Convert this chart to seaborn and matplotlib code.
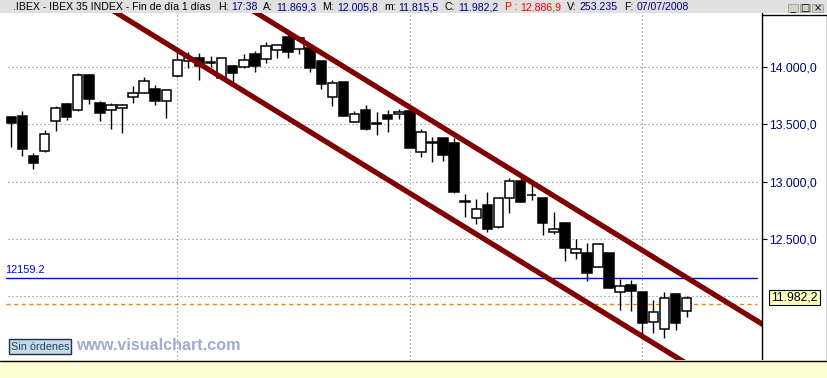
import numpy as np
import pandas as pd
import matplotlib
matplotlib.use("Agg")
import matplotlib.pyplot as plt
import matplotlib.patches as mpatches
from matplotlib.lines import Line2D
from matplotlib.transforms import offset_copy
import seaborn as sns

# ---------------- data ----------------
holidays = [pd.Timestamp("2008-05-01")]
dates = [d for d in pd.bdate_range("2008-04-10", "2008-07-07") if d not in holidays]

opens = [13561, 13573, 13224, 13270, 13532, 13675, 13625, 13928, 13683, 13622,
         13640, 13736, 13771, 13806, 13701, 13919, 14052, 14076, 14045, 13901,
         14006, 13997, 14111, 14067, 14148, 14259, 14154, 14168, 14052, 13741,
         13867, 13523, 13625, 13512, 13581, 13588, 13616, 13261, 13345, 13378,
         13335, 12828, 12681, 12794, 12607, 12855, 13006, 12888, 12855, 12559,
         12637, 12375, 12375, 12259, 12375, 12035, 12096, 12035, 11779, 11713,
         12021, 11869.3]
highs = [13573, 13616, 13247, 13451, 13660, 13686, 13950, 13942, 13704, 13683,
         13675, 13834, 13913, 13843, 13797, 14170, 14128, 14119, 14096, 14076,
         14017, 14111, 14140, 14215, 14192, 14303, 14255, 14168, 14052, 13887,
         13867, 13616, 13669, 13605, 13625, 13631, 13616, 13459, 13387, 13378,
         13384, 12890, 12846, 12913, 12860, 13029, 13058, 12986, 12855, 12738,
         12651, 12500, 12463, 12454, 12375, 12151, 12143, 12035, 11968, 12035,
         12032, 12005.8]
lows = [13305, 13227, 13108, 13261, 13445, 13538, 13616, 13677, 13532, 13462,
        13427, 13689, 13771, 13669, 13558, 13910, 13989, 13887, 14003, 13887,
        13849, 13989, 13959, 14032, 14076, 14076, 14111, 13959, 13806, 13663,
        13575, 13518, 13451, 13407, 13431, 13544, 13291, 13218, 13174, 13183,
        12904, 12695, 12631, 12564, 12599, 12730, 12825, 12840, 12535, 12544,
        12311, 12326, 12137, 12259, 12076, 11881, 11875, 11643, 11683, 11634,
        11706, 11815.5]
closes = [13509, 13282, 13160, 13413, 13640, 13567, 13928, 13721, 13596, 13666,
          13671, 13771, 13875, 13706, 13797, 14058, 14076, 14009, 14038, 14076,
          13945, 14061, 14011, 14186, 14192, 14128, 14250, 13994, 13852, 13858,
          13575, 13588, 13457, 13506, 13544, 13605, 13296, 13431, 13340, 13235,
          12913, 12822, 12759, 12585, 12860, 13006, 12825, 12880, 12637, 12585,
          12419, 12410, 12206, 12454, 12076, 12093, 12049, 11770, 11861, 11983,
          11770, 11982.2]

# trend channel (bar index, price)
upper_idx = [20.0, 68.0]
upper_price = [14599, 11748]
lower_idx = [8.0, 63.0]
lower_price = [14562, 11295]

ref_level = 12159.2
ref_label = "12159.2"
orange_level = 11933
last_label = "11.982,2"
grid_levels = [12000, 12500, 13000, 13500, 14000]
ytick_levels = [12500, 13000, 13500, 14000]
ytick_labels = ["12.500,0", "13.000,0", "13.500,0", "14.000,0"]
month_labels = ["May", "Jun", "Jul"]
month_starts = ["2008-05-02", "2008-06-02", "2008-07-01"]

header_title = ".IBEX - IBEX 35 INDEX - Fin de día 1 días"
header_fields = [
    ("H:", "17:38", "black", "#000080"),
    ("A:", "11.869,3", "black", "#000080"),
    ("M:", "12.005,8", "black", "#000080"),
    ("m:", "11.815,5", "black", "#000080"),
    ("C:", "11.982,2", "black", "#000080"),
    ("P :", "12.886,9", "#FF0000", "#FF0000"),
    ("V:", "253.235", "black", "#000080"),
    ("F:", "07/07/2008", "black", "#000080"),
]

# ---------------- style ----------------
sns.set_theme(style="white")
plt.rcParams['font.family'] = ['Liberation Sans', 'DejaVu Sans']

W, H = 828, 378
fig = plt.figure(figsize=(W / 100, H / 100), dpi=100)
fig.patch.set_facecolor("white")


def fx(x):
    return x / W


def fy(y):
    return 1 - y / H


# header bar & bottom strip
fig.patches.append(mpatches.Rectangle((0, fy(13)), 1, 13 / H, transform=fig.transFigure,
                                      facecolor="#E0E0E0", edgecolor="none", zorder=0))
fig.patches.append(mpatches.Rectangle((0, 0), 1, 18 / H, transform=fig.transFigure,
                                      facecolor="#FFFFD2", edgecolor="none", zorder=0))

ax_left, ax_right, ax_top, ax_bottom = 0, 762, 13, 360
ax = fig.add_axes([fx(ax_left), fy(ax_bottom), fx(ax_right) - fx(ax_left), fy(ax_top) - fy(ax_bottom)])
ax.set_facecolor("white")

idx = np.arange(len(dates))
x_min, x_max = -1.02, 67.81
y_min, y_max = 11444.7, 14470.9
ax.set_xlim(x_min, x_max)
ax.set_ylim(y_min, y_max)

date_pos = {d.strftime("%Y-%m-%d"): i for i, d in enumerate(dates)}
month_idx = [date_pos[m] for m in month_starts]

grid_style = dict(color="#808080", linewidth=0.8, linestyle=(0, (1, 2.6)), zorder=1)
for g in grid_levels:
    ax.axhline(g, xmin=8 / 762, xmax=759 / 762, **grid_style)
for m in month_idx:
    ax.axvline(m, **grid_style)

# reference lines
ax.axhline(ref_level, xmin=6 / 762, xmax=757 / 762, color="#0000FF", linewidth=1.0, zorder=2)
ax.axhline(orange_level, xmin=6 / 762, xmax=757 / 762, color="#FF8000", linewidth=1.0,
           linestyle=(0, (3, 2.5)), zorder=2)

# candles
wick_lw = 1.0
ax.vlines(idx, lows, highs, color="black", linewidth=wick_lw, zorder=3)
o = np.array(opens, dtype=float)
c = np.array(closes, dtype=float)
up = c >= o
body_bottom = np.minimum(o, c)
body_height = np.maximum(np.abs(c - o), 6)
ax.bar(idx[up], body_height[up], bottom=body_bottom[up], width=0.86,
       color="white", edgecolor="black", linewidth=1.1, zorder=4)
ax.bar(idx[~up], body_height[~up], bottom=body_bottom[~up], width=0.86,
       color="black", edgecolor="black", linewidth=1.1, zorder=4)

# channel
sns.lineplot(x=upper_idx, y=upper_price, ax=ax, color="#800000", linewidth=3.8,
             legend=False, zorder=5, sort=False)
sns.lineplot(x=lower_idx, y=lower_price, ax=ax, color="#800000", linewidth=3.8,
             legend=False, zorder=5, sort=False)
for ln in ax.get_lines()[-2:]:
    ln.set_solid_capstyle("butt")

# axes / ticks
for s in ["top", "left"]:
    ax.spines[s].set_visible(False)
ax.spines["right"].set_color("black")
ax.spines["right"].set_linewidth(1.0)
ax.spines["bottom"].set_visible(False)

ax.yaxis.tick_right()
ax.set_yticks(ytick_levels)
ax.set_yticklabels(ytick_labels)
ax.tick_params(axis="y", which="both", right=True, left=False, length=3.8, width=0.8,
               color="black", direction="out", pad=1.0, labelsize=8.7, labelcolor="#000080")
ax.set_xticks(month_idx)
ax.set_xticklabels([])
ax.tick_params(axis="x", which="both", bottom=True, length=5.5, width=0.8, color="black",
               direction="out")
ax.set_xlabel("")
ax.set_ylabel("")
ax.grid(False)

trans = offset_copy(ax.get_xaxis_transform(), fig=fig, x=2, y=-2, units="dots")
for m, lab in zip(month_idx, month_labels):
    ax.text(m, 0, lab, transform=trans, ha="left", va="top", fontsize=8.5, color="black",
            clip_on=False)

# bottom axis line across full width
fig.lines.append(Line2D([0, 1], [fy(360.5), fy(360.5)], transform=fig.transFigure,
                        color="black", linewidth=1.0))
# right panel box
fig.lines.append(Line2D([fx(762), fx(827.5), fx(827.5)], [fy(15), fy(15), fy(360)],
                        transform=fig.transFigure, color="black", linewidth=1.0))

# labels in plot
fig.text(fx(5), fy(273), ref_label, color="#0000FF", fontsize=7.9, ha="left", va="baseline")
fig.patches.append(mpatches.Rectangle((fx(9), fy(354)), (71 - 9) / W, (354 - 339) / H,
                                      transform=fig.transFigure, facecolor="#C8D8EE",
                                      edgecolor="#203040", linewidth=1.0, zorder=6))
fig.text(fx(40), fy(346.5), "Sin órdenes", color="#1F4A58", fontsize=7.8, ha="center",
         va="center", zorder=7)
fig.text(fx(76), fy(350), "www.visualchart.com", color="#A3AACD", fontsize=11.6,
         fontweight="bold", ha="left", va="baseline", zorder=7)

# last price marker
fig.patches.append(mpatches.Rectangle((fx(769), fy(305)), (820 - 769) / W, (305 - 290) / H,
                                      transform=fig.transFigure, facecolor="#FFFFC0",
                                      edgecolor="black", linewidth=0.8, zorder=6))
fig.text(fx(794.5), fy(297.5), last_label, color="black", fontsize=8.7, ha="center",
         va="center", zorder=7)

# header text: lay pieces out one after another, fitted to the header width
renderer = fig.canvas.get_renderer()


def text_w(s, size):
    t = fig.text(0, 0, s, fontsize=size)
    w = t.get_window_extent(renderer).width
    t.remove()
    return w


pieces = [(header_title, "black", 2)]
for lab, val, lc, vc in header_fields:
    pieces.append((lab, lc, 1))
    pieces.append((val, vc, 2))
pieces[-1] = (pieces[-1][0], pieces[-1][1], 0)

base = 8.0
space_w = text_w("a a", base) - text_w("aa", base)
total = sum(text_w(s, base) + n * space_w for s, _, n in pieces)
size = base * (689 - 13) / total
scale = size / base
xpos = 13.0
for s, col, n in pieces:
    fig.text(fx(xpos), fy(10), s, color=col, fontsize=size, ha="left", va="baseline")
    xpos += (text_w(s, base) + n * space_w) * scale

# window buttons
for (bx, bw), glyph in zip([(788, 10), (800, 10), (812, 11)], ["_", "□", "×"]):
    fig.patches.append(mpatches.Rectangle((fx(bx), fy(12)), bw / W, 8 / H,
                                          transform=fig.transFigure, facecolor="#D4D0C8",
                                          edgecolor="#A0A0A0", linewidth=0.6))
    fig.text(fx(bx + bw / 2), fy(8), glyph, color="black", fontsize=7, ha="center",
             va="center", family=["DejaVu Sans"])

fig.savefig("out.png", dpi=100)
